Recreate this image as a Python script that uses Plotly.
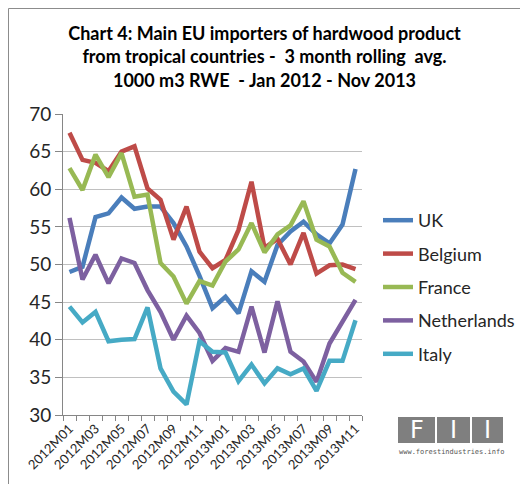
import plotly.graph_objects as go

months = ["2012M01", "2012M02", "2012M03", "2012M04", "2012M05", "2012M06",
          "2012M07", "2012M08", "2012M09", "2012M10", "2012M11", "2012M12",
          "2013M01", "2013M02", "2013M03", "2013M04", "2013M05", "2013M06",
          "2013M07", "2013M08", "2013M09", "2013M10", "2013M11"]

uk = [49.0, 49.7, 56.3, 56.8, 58.9, 57.4, 57.7, 57.7, 55.5, 52.4, 48.5, 44.2,
      45.7, 43.5, 49.1, 47.7, 52.6, 54.4, 55.7, 54.0, 52.8, 55.3, 62.7]
belgium = [67.5, 63.9, 63.5, 62.4, 65.0, 65.7, 60.1, 58.6, 53.3, 57.7, 51.7, 49.5,
           50.6, 54.6, 61.0, 52.2, 53.4, 50.0, 54.2, 48.8, 49.9, 50.0, 49.4]
france = [62.8, 59.9, 64.6, 61.6, 64.8, 59.0, 59.3, 50.2, 48.4, 44.8, 47.8, 47.2,
          50.4, 52.0, 55.5, 51.6, 54.0, 55.2, 58.4, 53.3, 52.4, 48.9, 47.7]
netherlands = [56.2, 48.0, 51.3, 47.5, 50.8, 50.2, 46.6, 43.7, 40.0, 43.2, 40.9, 37.2,
               38.9, 38.4, 44.4, 38.3, 45.1, 38.4, 37.1, 34.4, 39.5, 42.4, 45.3]
italy = [44.4, 42.3, 43.7, 39.8, 40.0, 40.1, 44.3, 36.2, 33.1, 31.4, 39.8, 38.4,
         38.3, 34.5, 36.7, 34.2, 36.2, 35.4, 36.2, 33.2, 37.2, 37.2, 42.6]

series_names = ["UK", "Belgium", "France", "Netherlands", "Italy"]
series_values = [uk, belgium, france, netherlands, italy]
series_colors = ["#4A7EBB", "#BE4B48", "#98B954", "#7D60A0", "#46AAC5"]

tick_labels = months[::2]

title_text = ("Chart 4: Main EU importers of hardwood product<br>"
              "from tropical countries -  3 month rolling  avg.<br>"
              "1000 m3 RWE  - Jan 2012 - Nov 2013")

x = list(range(len(months)))

fig = go.Figure()
for name, vals, col in zip(series_names, series_values, series_colors):
    fig.add_trace(go.Scatter(
        x=x, y=vals, mode="lines", name=name, legendgroup=name,
        line=dict(color=col, width=4.5),
    ))

# page body has an 8px margin, so the figure is drawn at an (8, 8) offset
OFF = 8
W, H = 520, 476
ml, mr, mt, mb = 55, 166, 106, 69
pw = W - ml - mr
ph = H - mt - mb


def px(xs):
    return (xs - OFF - ml) / pw


def py(ys):
    return (H - mb - (ys - OFF)) / ph


shapes = [
    dict(type="rect", xref="paper", yref="paper",
         x0=px(OFF + 0.5), x1=px(560), y0=py(520), y1=py(OFF + 0.5),
         line=dict(color="#8C8C8C", width=1), fillcolor="rgba(0,0,0,0)", layer="below"),
]
boxes = [(398, 435), (437, 470), (472, 503)]
for (a, b) in boxes:
    shapes.append(dict(type="rect", xref="paper", yref="paper",
                       x0=px(a), x1=px(b), y0=py(443), y1=py(417),
                       line=dict(width=0), fillcolor="#7F7F7F"))

annotations = []
for letter, (a, b) in zip(["F", "I", "I"], boxes):
    annotations.append(dict(text=letter, xref="paper", yref="paper",
                            x=px((a + b) / 2), y=py(430), showarrow=False,
                            xanchor="center", yanchor="middle",
                            font=dict(family="DejaVu Sans", size=24, color="white")))
annotations.append(dict(text="www.forestindustries.info", xref="paper", yref="paper",
                        x=px(451), y=py(452), showarrow=False,
                        xanchor="center", yanchor="middle",
                        font=dict(family="DejaVu Sans Mono", size=7, color="#555555")))

fig.update_layout(
    template="none",
    width=W, height=H,
    margin=dict(l=ml, r=mr, t=mt, b=mb, autoexpand=False),
    paper_bgcolor="white", plot_bgcolor="white",
    font=dict(family="Lato", color="#262626"),
    title=dict(text=title_text, x=(264.5 - OFF) / W, xanchor="center",
               y=1 - 32 / H, yanchor="top", yref="container",
               font=dict(family="Lato", size=18, color="black", weight="bold")),
    showlegend=True,
    legend=dict(x=px(378), xanchor="left", y=py(287), yanchor="middle",
                font=dict(family="Lato", size=18, color="#262626"),
                tracegroupgap=7, bgcolor="rgba(0,0,0,0)", borderwidth=0),
    shapes=shapes,
    annotations=annotations,
)

fig.update_xaxes(
    automargin=False,
    range=[-0.5, len(months) - 0.5],
    tickmode="array", tickvals=x[::2], ticktext=tick_labels,
    tickangle=-45, ticks="", showgrid=False, zeroline=False,
    showline=True, linecolor="#868686", linewidth=1,
    tickfont=dict(family="Lato", size=13, color="#262626"),
    minor=dict(tickmode="array", tickvals=[i - 0.5 for i in range(len(months) + 1)],
               ticks="outside", ticklen=5, tickcolor="#868686", showgrid=False),
)
fig.update_yaxes(
    automargin=False,
    range=[30, 70], dtick=5, tick0=30, tickmode="linear",
    showgrid=True, gridcolor="#C0C0C0", gridwidth=1, zeroline=False,
    showline=True, linecolor="#868686", linewidth=1,
    ticks="outside", ticklen=7, tickcolor="#868686",
    tickfont=dict(family="Lato", size=19, color="#262626"),
)

fig.write_html("out.html")
